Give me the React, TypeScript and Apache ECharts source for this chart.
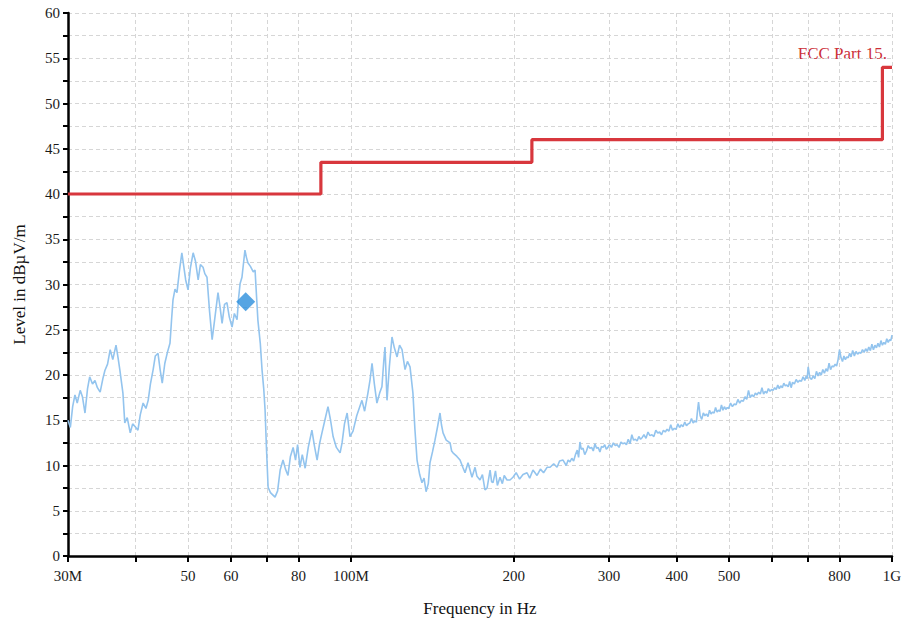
import React, { useEffect, useRef } from 'react';
import * as echarts from 'echarts';

// Measured trace (frequency in MHz, level in dBµV/m)
const traceFreqMHz = [
  30.0, 30.3, 30.6, 30.9, 31.2, 31.6, 31.9, 32.25, 32.6, 32.9, 33.3, 33.65, 34.0, 34.4, 34.8, 35.1, 35.5, 35.9,
  36.3, 36.8, 37.1, 37.4, 37.9, 38.2, 38.6, 39.1, 39.5, 39.9, 40.4, 40.8, 41.3, 41.8, 42.2, 42.6, 43.1, 43.5,
  44.0, 44.4, 44.8, 45.3, 45.8, 46.3, 46.6, 46.9, 47.3, 47.7, 48.2, 48.7, 49.1, 49.5, 50.0, 50.5, 51.1, 51.6,
  52.2, 52.7, 53.3, 53.7, 54.2, 54.8, 55.4, 56.1, 56.8, 57.3, 57.8, 58.4, 59.0, 59.6, 60.3, 60.9, 61.6, 62.0,
  62.4, 62.9, 63.7, 64.1, 64.5, 65.2, 66.0, 66.5, 67.3, 68.0, 68.5, 69.0, 69.4, 69.8, 70.3, 71.0, 72.4, 73.2,
  74.0, 74.9, 75.7, 76.5, 77.3, 78.2, 79.0, 79.7, 80.5, 81.3, 82.3, 83.4, 84.7, 85.6, 86.6, 87.5, 88.4, 89.5,
  90.7, 91.7, 92.7, 94.0, 95.5, 96.3, 97.3, 98.4, 99.6, 100.9, 102.5, 104.8, 106.0, 107.5, 108.5, 109.4, 110.5,
  111.7, 113.0, 114.1, 115.0, 115.6, 116.6, 117.8, 119.1, 120.3, 121.7, 123.0, 124.3, 125.9, 127.2, 128.6,
  130.2, 131.3, 132.5, 134.0, 135.3, 136.5, 137.7, 139.0, 140.0, 141.5, 143.0, 144.5, 146.1, 147.0, 148.0,
  150.0, 152.5, 153.5, 154.4, 157.0, 159.1, 161.0, 162.5, 164.6, 166.0, 167.4, 169.6, 171.0, 173.2, 175.0,
  176.9, 178.5, 180.8, 182.0, 183.1, 185.0, 186.5, 188.6, 190.5, 192.0, 194.3, 196.8, 199.3, 202.0, 205.0,
  208.0, 211.6, 214.0, 217.0, 220.8, 224.0, 227.0, 230.4, 233.4, 237.0, 240.4, 243.0, 246.6,
  250, 252, 254, 256, 258, 260, 262, 263.5, 265, 266.5, 268.5, 270.5, 272.5, 274.5, 276.5, 278.5, 280.5,
  282.5, 284.5, 286.5, 288.5, 290.5, 292.5, 294.5, 296.5, 298.5,
  300.5, 303, 305.5, 308, 310.5, 313, 315.5, 318, 320.5, 323, 325.5, 328, 330.5, 333, 335.5, 338, 340.5,
  343, 345.5, 348, 351, 354, 357, 360, 363, 366, 369, 372, 375, 378, 381, 384, 387, 390, 393, 396, 399,
  402, 405, 408, 411, 414, 417, 420, 423, 426, 429, 432, 435, 437, 439, 442, 445, 448, 451, 454, 457, 460,
  463, 466, 469, 472, 475, 478, 481, 484, 487, 490, 493, 496, 499,
  503, 507, 511, 515, 519, 523, 527, 531, 535, 539, 543, 547, 551, 555, 559, 563, 567, 571, 575, 579, 583,
  587, 591, 595, 599,
  603, 607, 611, 615, 619, 623, 627, 631, 635, 639, 643, 647, 651, 655, 660, 665, 670, 675, 680, 685, 690,
  694, 697, 700,
  705, 710, 715, 720, 725, 730, 735, 740, 745, 750, 755, 760, 765, 770, 775, 780, 785, 790, 795, 800,
  805, 810, 815, 820, 825, 830, 835, 840, 846, 852, 858, 864, 870, 876, 882, 888, 894, 900, 906, 912, 918,
  924, 930, 936, 942, 948, 954, 960, 966, 972, 978, 984, 990, 995, 1000,
];
const traceLevelDb = [
  15.0, 14.2, 16.5, 17.8, 16.9, 18.3, 17.6, 15.8, 18.5, 19.8, 19.0, 19.4, 18.6, 18.1, 19.6, 20.5, 21.2, 22.8,
  21.7, 23.3, 22.0, 20.6, 18.0, 14.7, 15.3, 13.6, 14.6, 14.3, 13.9, 15.6, 16.9, 16.3, 17.2, 19.0, 20.6, 22.1,
  22.4, 20.6, 19.1, 21.3, 22.5, 23.5, 26.0, 28.3, 29.5, 29.1, 31.5, 33.5, 32.0, 30.5, 29.4, 31.8, 33.5, 32.6,
  30.5, 32.2, 31.9, 31.2, 30.8, 27.0, 23.9, 26.5, 29.1, 27.5, 25.7, 27.8, 28.0, 26.4, 25.3, 26.8, 26.1, 28.5,
  30.1, 30.8, 33.8, 33.0, 32.4, 32.0, 31.4, 31.6, 26.1, 23.5, 20.6, 18.5, 16.1, 12.0, 7.6, 7.0, 6.5, 7.2,
  9.5, 10.6, 9.6, 8.9, 11.0, 12.0, 10.6, 12.3, 9.8, 11.2, 9.7, 12.0, 13.9, 12.2, 10.6, 12.4, 13.6, 15.0,
  16.5, 15.0, 13.2, 12.0, 11.4, 12.5, 14.6, 15.8, 13.2, 13.8, 15.5, 17.2, 16.0, 18.0, 19.5, 21.3, 19.0,
  16.9, 18.0, 18.7, 21.5, 23.1, 17.2, 21.0, 24.2, 23.0, 22.0, 23.3, 22.8, 20.6, 21.5, 20.9,
  18.0, 14.0, 10.6, 9.0, 8.1, 8.6, 7.1, 8.0, 10.3, 11.5, 12.8, 14.2, 15.8, 14.5, 13.6,
  12.8, 12.5, 11.6, 11.4, 11.0, 10.6, 9.8, 9.2, 10.3, 9.5, 8.7, 9.8, 8.8, 8.4, 9.0,
  7.3, 7.5, 9.5, 8.2, 8.1, 9.4, 7.8, 8.7, 8.0, 8.9, 8.4, 8.4, 8.7, 9.2, 8.5,
  9.0, 9.2, 8.6, 9.5, 8.9, 9.6, 9.2, 9.8, 9.8, 10.2, 9.8, 10.5, 10.6,
  10.0, 10.6, 10.4, 10.8, 10.5, 11.2, 11.7, 10.9, 12.6, 11.8, 11.9, 11.2, 11.6, 12.2, 11.9, 12.0, 11.6,
  12.4, 11.9, 12.0, 11.5, 12.1, 12.0, 12.3, 11.8, 12.0,
  12.3, 12.0, 12.5, 12.2, 12.3, 12.0, 12.6, 12.4, 12.5, 12.3, 12.9, 12.4, 13.4, 12.8, 12.9, 12.7, 13.2,
  12.9, 13.1, 13.4, 13.0, 13.7, 13.3, 13.4, 13.2, 13.9, 13.6, 13.7, 13.4, 13.9, 13.7, 14.0, 13.8, 14.5, 13.9, 14.1, 14.0, 14.6,
  14.2, 14.5, 14.3, 14.8, 14.4, 14.6, 14.7, 15.2, 14.7, 14.9, 14.8, 16.0, 17.0, 15.5, 15.1, 15.8, 15.5, 15.7, 15.4, 16.1, 15.7,
  15.9, 15.8, 16.4, 15.9, 16.1, 16.0, 16.7, 16.1, 16.5, 16.2, 16.4, 16.3, 16.9,
  16.5, 16.8, 16.7, 17.3, 16.9, 17.2, 17.1, 17.6, 17.3, 18.3, 17.5, 17.8, 17.6, 18.0, 17.8, 18.1, 17.9, 18.6, 17.9, 18.2, 18.0,
  18.5, 18.2, 18.4, 18.3,
  18.6, 18.4, 18.9, 18.5, 18.8, 18.6, 19.1, 18.8, 18.9, 18.7, 19.3, 18.6, 19.2, 19.0, 19.5, 19.2, 19.4, 19.3, 19.8, 19.4, 19.9,
  19.6, 20.9, 19.7,
  19.5, 19.9, 19.6, 20.4, 19.9, 20.3, 20.0, 20.6, 20.2, 20.7, 20.4, 21.3, 20.6, 21.0, 20.9, 21.2, 21.0, 21.7, 22.8, 21.9,
  21.5, 22.1, 21.7, 22.0, 21.9, 22.4, 22.0, 22.7, 22.1, 22.6, 22.3, 22.5, 22.4, 22.8, 22.5, 22.9, 22.6, 23.1, 22.7, 23.4, 22.8,
  23.3, 23.0, 23.5, 23.1, 23.8, 23.3, 23.6, 23.4, 24.0, 23.6, 23.9, 23.8, 24.4, 24.9,
];

// FCC Part 15 limit (step changes at these frequencies)
const limitFreqMHz = [30, 88, 216, 960, 1000];
const limitLevelDb = [40, 43.5, 46, 54, 54];
const limitName = 'FCC Part 15.';

// Peak marker
const markerFreqMHz = [63.9];
const markerLevelDb = [28.1];

// Axis ticks
const xTickValues = [30, 40, 50, 60, 70, 80, 100, 200, 300, 400, 500, 600, 700, 800, 1000];
const xLabelValues = [30, 50, 60, 80, 100, 200, 300, 400, 500, 800, 1000];
const xLabelText: Record<number, string> = { 30: '30M', 100: '100M', 1000: '1G' };

const serif = "'Liberation Serif', 'DejaVu Serif', serif";

export default function App() {
  const ref = useRef<HTMLDivElement>(null);
  useEffect(() => {
    if (!ref.current) return;
    const chart = echarts.init(ref.current, undefined, { renderer: 'svg' });
    const trace = traceFreqMHz.map((f, i) => [f, traceLevelDb[i]]);
    const limit = limitFreqMHz.map((f, i) => [f, limitLevelDb[i]]);
    const marker = markerFreqMHz.map((f, i) => [f, markerLevelDb[i]]);
    const gridLine = { show: true, lineStyle: { color: '#d6d6d6', width: 1, type: [4, 3] as any } };
    chart.setOption({
      animation: false,
      backgroundColor: '#ffffff',
      grid: { left: 68, right: 15, top: 13, bottom: 67, containLabel: false },
      xAxis: {
        type: 'log',
        logBase: 10,
        min: 30,
        max: 1000,
        name: 'Frequency in Hz',
        nameLocation: 'middle',
        nameGap: 44,
        nameTextStyle: { fontFamily: serif, fontSize: 17, color: '#111' },
        axisLine: { show: true, onZero: false, lineStyle: { color: '#000', width: 2.5 } },
        axisTick: { show: true, length: 6, customValues: xTickValues, lineStyle: { color: '#000', width: 2 } },
        axisLabel: {
          customValues: xLabelValues,
          margin: 12,
          fontFamily: serif,
          fontSize: 15,
          color: '#1a1a1a',
          formatter: (v: number) => xLabelText[Math.round(v)] ?? String(Math.round(v)),
        },
        splitLine: gridLine,
        minorTick: { show: false },
        minorSplitLine: { show: false },
      },
      yAxis: {
        type: 'value',
        min: 0,
        max: 60,
        interval: 2.5,
        name: 'Level in dBµV/m',
        nameLocation: 'middle',
        nameGap: 40,
        nameTextStyle: { fontFamily: serif, fontSize: 17, color: '#111' },
        axisLine: { show: true, lineStyle: { color: '#000', width: 2.5 } },
        axisTick: { show: true, length: 5, lineStyle: { color: '#000', width: 2 } },
        axisLabel: {
          margin: 8,
          fontFamily: serif,
          fontSize: 15,
          color: '#1a1a1a',
          formatter: (v: number) => (Math.abs(v % 5) < 1e-9 ? String(v) : ''),
        },
        splitLine: gridLine,
      },
      series: [
        {
          type: 'line',
          name: 'Level',
          data: trace,
          showSymbol: false,
          symbol: 'none',
          lineStyle: { color: '#93c4ee', width: 1.6 },
          z: 2,
        },
        {
          type: 'line',
          name: limitName,
          data: limit,
          step: 'end',
          showSymbol: false,
          symbol: 'none',
          lineStyle: { color: '#d8373d', width: 3.2 },
          z: 3,
        },
        {
          type: 'scatter',
          name: 'Peak',
          data: marker,
          symbol: 'diamond',
          symbolSize: 19,
          itemStyle: { color: '#2c8fdc' },
          z: 4,
        },
      ],
      graphic: [
        {
          type: 'text',
          right: 20,
          top: 45,
          style: {
            text: limitName,
            fill: '#cc3038',
            font: `17px ${serif}`,
          },
        },
      ],
    });
    return () => chart.dispose();
  }, []);
  return (
    <div
      ref={ref}
      style={{ position: 'fixed', left: 0, top: 0, width: 907, height: 623, background: '#fff' }}
    />
  );
}
